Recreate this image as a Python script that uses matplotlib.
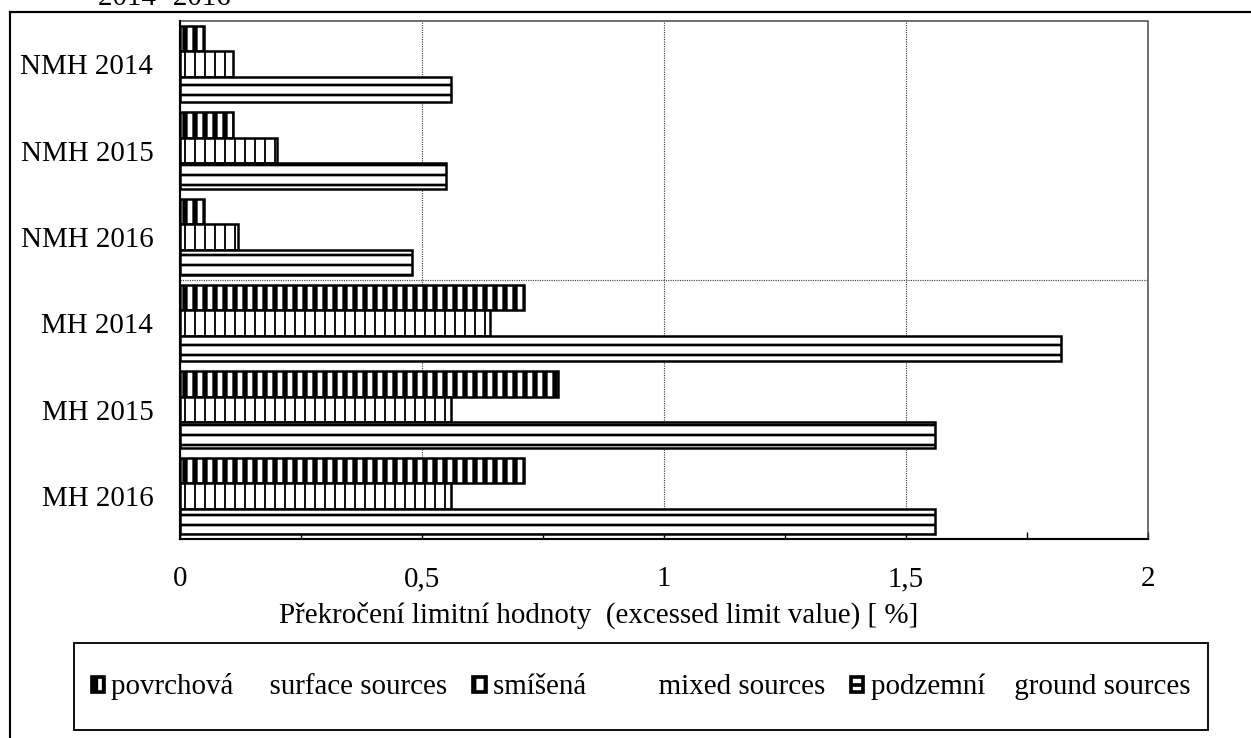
import matplotlib
matplotlib.use("Agg")
import matplotlib.pyplot as plt
import numpy as np
from matplotlib.lines import Line2D
from matplotlib.patches import Rectangle
from matplotlib.ticker import FixedLocator, FuncFormatter

# ---- data ----
categories = ["NMH 2014", "NMH 2015", "NMH 2016", "MH 2014", "MH 2015", "MH 2016"]
surface = [0.05, 0.11, 0.05, 0.71, 0.78, 0.71]
mixed = [0.11, 0.20, 0.12, 0.64, 0.56, 0.56]
ground = [0.56, 0.55, 0.48, 1.82, 1.56, 1.56]
series_labels = ["povrchová     surface sources",
                 "smíšená          mixed sources",
                 "podzemní    ground sources"]
x_ticks = [0, 0.5, 1, 1.5, 2]
x_label = "Překročení limitní hodnoty  (excessed limit value) [ %]"
title_text = "2014- 2016"

DPI = 120
W, H = 1251, 738
FS = 17.4
plt.rcParams['font.family'] = ['Liberation Serif', 'DejaVu Serif']

fig = plt.figure(figsize=(W / DPI, H / DPI), dpi=DPI)
ax = fig.add_axes([180 / W, 1 - 539 / H, (1148 - 180) / W, (539 - 21) / H])


def with_hatch_lw(artist, lw):
    """Draw an artist with its own hatch line width."""
    if hasattr(artist, 'set_hatch_linewidth'):
        try:
            artist.set_hatch_linewidth(lw)
        except Exception:
            pass
    orig = artist.draw

    def draw(renderer, _orig=orig, _lw=lw):
        with plt.rc_context({'hatch.linewidth': _lw}):
            return _orig(renderer)
    artist.draw = draw


y = np.arange(len(categories))
h = 0.295
styles = [(surface, -h, '||', 3.2), (mixed, 0, '||', 1.1), (ground, h, '--', 1.6)]
hlws = []
for (vals, off, hatch, hlw), lab in zip(styles, series_labels):
    bars = ax.barh(y + off, vals, height=h, color='white', edgecolor='black',
                   linewidth=1.5, hatch=hatch, label=lab, zorder=3)
    for p in bars:
        with_hatch_lw(p, hlw)
    hlws.append(hlw)

ax.set_xlim(0, 2)
ax.set_ylim(len(categories) - 0.5, -0.5)

ax.xaxis.set_major_locator(FixedLocator(x_ticks))
ax.xaxis.set_minor_locator(FixedLocator(np.arange(0.25, 2.0, 0.5)))
ax.xaxis.set_major_formatter(FuncFormatter(lambda v, p: ('%g' % v).replace('.', ',')))
ax.tick_params(axis='x', which='both', direction='in', length=4, width=0.8,
               labelsize=FS, pad=16.5)
ax.set_yticks(y)
ax.set_yticklabels(categories, fontsize=FS)
ax.tick_params(axis='y', which='major', length=0, pad=16)
ax.yaxis.set_minor_locator(FixedLocator([1, 4]))
ax.tick_params(axis='y', which='minor', direction='out', length=3, width=0.8)

ax.grid(axis='x', which='major', linestyle=(0, (1, 1)), color='#444444', linewidth=0.7, zorder=0)
ax.axhline(2.5, linestyle=(0, (1, 1)), color='#444444', linewidth=0.7, zorder=1)
ax.set_axisbelow(True)

for s in ['left', 'bottom']:
    ax.spines[s].set_linewidth(1.3)
    ax.spines[s].set_color('black')
    ax.spines[s].set_zorder(5)
for s in ['top', 'right']:
    ax.spines[s].set_linestyle((0, (1, 1)))
    ax.spines[s].set_color('#444444')
    ax.spines[s].set_linewidth(0.9)

# x-axis title (placed left of the axis centre, as in the original)
fig.text(599 / W, 1 - 615 / H, x_label, fontsize=FS, ha='center', va='center')

# legend
leg = fig.legend(loc='center', bbox_to_anchor=(641 / W, 1 - 687 / H), ncol=3,
                 frameon=False, fontsize=FS, handlelength=0.42, handleheight=0.42,
                 handletextpad=0.25, columnspacing=0.9, borderaxespad=0)
for hdl, hlw in zip(leg.legend_handles, hlws):
    hdl.set_linewidth(2.2)
    with_hatch_lw(hdl, hlw + 0.6)
fig.add_artist(Rectangle((74 / W, 1 - 730 / H), (1208 - 74) / W, (730 - 643) / H,
                         transform=fig.transFigure, fill=False, edgecolor='black',
                         linewidth=1.1))

# outer frame (extends beyond the image on right and bottom)
fig.add_artist(Line2D([10 / W, 10 / W], [-0.05, 1 - 12 / H], transform=fig.transFigure,
                      color='black', linewidth=1.3))
fig.add_artist(Line2D([10 / W, 1.05], [1 - 12 / H, 1 - 12 / H], transform=fig.transFigure,
                      color='black', linewidth=1.3))

fig.text(98 / W, 1 - 5 / H, title_text, fontsize=FS, ha='left', va='baseline')

fig.savefig("out.png", dpi=DPI)
